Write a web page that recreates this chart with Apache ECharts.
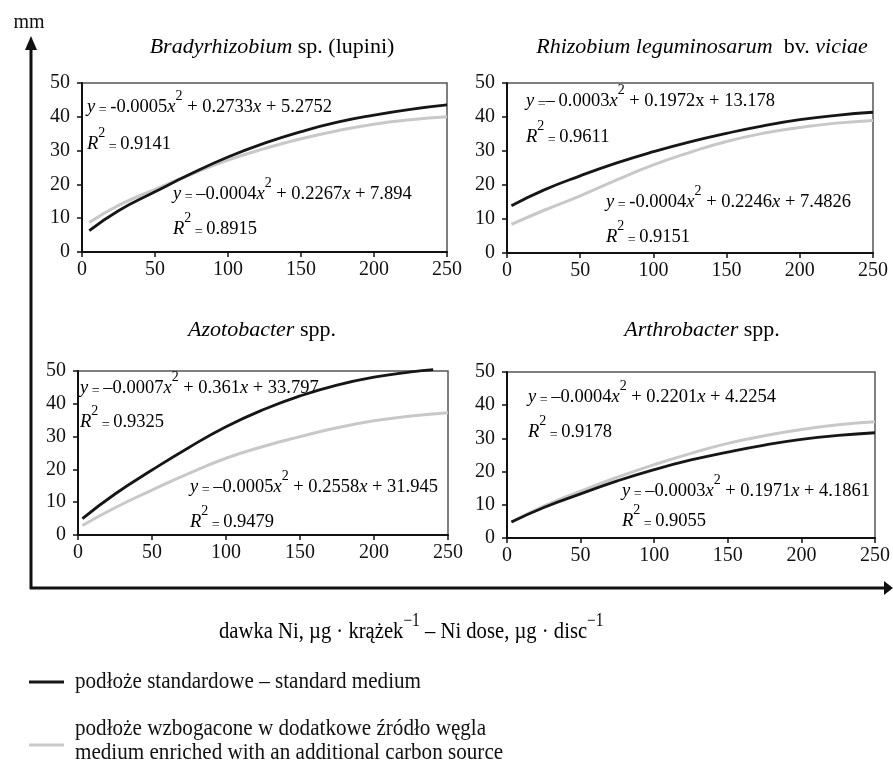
<!DOCTYPE html>
<html><head><meta charset="utf-8">
<script src="https://cdn.jsdelivr.net/npm/echarts@6/dist/echarts.min.js"></script>
<style>html,body{margin:0;padding:0;background:#fff}#c{width:893px;height:764px}</style>
</head><body><div id="c"></div>
<script>
// ---- tick values ----
const xTicks = [0, 50, 100, 150, 200, 250];
const yTicks = [0, 10, 20, 30, 40, 50];

// ---- panel titles (italic part, plain part) ----
const titleItalic = ['Bradyrhizobium', 'Rhizobium leguminosarum', 'Azotobacter', 'Arthrobacter'];
const titlePlain = [' sp. (lupini)', '  bv. ', ' spp.', ' spp.'];

// ---- data (x = Ni dose, y = mm) ----
const xBrady = [5, 25, 50, 75, 100, 125, 150, 175, 200, 225, 250];
const bradyStd = [6.3, 12.2, 17.8, 23.2, 28.1, 32.2, 35.6, 38.4, 40.5, 42.2, 43.5];
const bradyEnr = [8.7, 13.8, 18.5, 23.0, 27.2, 30.6, 33.5, 35.9, 37.8, 39.1, 40.0];

const xRhizo = [3, 25, 50, 75, 100, 125, 150, 175, 200, 225, 250];
const rhizoStd = [13.9, 18.5, 22.7, 26.5, 29.8, 32.7, 35.2, 37.4, 39.2, 40.5, 41.4];
const rhizoEnr = [8.4, 12.5, 16.8, 21.5, 25.9, 29.6, 32.8, 35.2, 36.9, 38.2, 39.0];

const xAzoStd = [3, 25, 50, 75, 100, 125, 150, 175, 200, 225, 240];
const azoStd = [5.0, 12.5, 19.8, 26.7, 33.0, 38.2, 42.4, 45.7, 48.1, 49.7, 50.4];
const xAzoEnr = [3, 25, 50, 75, 100, 125, 150, 175, 200, 225, 250];
const azoEnr = [2.9, 8.3, 13.7, 18.8, 23.4, 27.0, 30.0, 32.7, 34.8, 36.3, 37.3];

const xArthro = [3, 25, 50, 75, 100, 125, 150, 175, 200, 225, 250];
const arthroStd = [4.8, 9.2, 13.3, 17.2, 20.6, 23.5, 25.9, 28.0, 29.7, 30.9, 31.7];
const arthroEnr = [4.8, 9.6, 14.1, 18.3, 22.1, 25.5, 28.5, 30.8, 32.7, 34.1, 35.0];

// ---- regression labels ----
const eqStd = [
  ['\u2009-0.0005', '0.2733', '5.2752', '0.9141', true],
  ['\u2013\u20090.0003', '0.1972', '13.178', '0.9611', false],
  ['\u2009\u20130.0007', '0.361', '33.797', '0.9325', true],
  ['\u2009\u20130.0004', '0.2201', '4.2254', '0.9178', true]
];
const eqEnr = [
  ['\u2009\u20130.0004', '0.2267', '7.894', '0.8915', true],
  ['\u2009-0.0004', '0.2246', '7.4826', '0.9151', true],
  ['\u2009\u20130.0005', '0.2558', '31.945', '0.9479', true],
  ['\u2009\u20130.0003', '0.1971', '4.1861', '0.9055', true]
];

// legend / axis texts
const seriesNames = ['podłoże standardowe – standard medium',
  'podłoże wzbogacone w dodatkowe źródło węgla\nmedium enriched with an additional carbon source'];

const FONT = '"Liberation Serif", "DejaVu Serif", serif';
const BLACK = '#161616', GREY = '#c8c8c8';

// layout
const grids = [
  {left: 82, top: 83, width: 365, height: 169},
  {left: 507, top: 83, width: 366, height: 170},
  {left: 78, top: 371, width: 370, height: 164},
  {left: 507, top: 372, width: 369, height: 166}
];
const titlePos = [[272, 47], [702, 47], [262, 330], [702, 330]];
const eqPos = [
  [[87, 108], [87, 145], [173, 195], [173, 230]],
  [[526, 102], [526, 138], [606, 203], [606, 238]],
  [[80, 389], [80, 423], [190, 488], [190, 523]],
  [[528, 398], [528, 433], [622, 492], [622, 522]]
];
const seriesData = [
  [[xBrady, bradyStd], [xBrady, bradyEnr]],
  [[xRhizo, rhizoStd], [xRhizo, rhizoEnr]],
  [[xAzoStd, azoStd], [xAzoEnr, azoEnr]],
  [[xArthro, arthroStd], [xArthro, arthroEnr]]
];

const zip = (xs, ys) => xs.map((x, i) => [x, ys[i]]);

const rich = {
  n: {fontFamily: FONT, fontSize: 18.5, color: '#111', lineHeight: 28, verticalAlign: 'bottom'},
  e: {fontFamily: FONT, fontSize: 14, color: '#111', lineHeight: 28, verticalAlign: 'bottom'},
  i: {fontFamily: FONT, fontSize: 18.5, fontStyle: 'italic', color: '#111', lineHeight: 28, verticalAlign: 'bottom'},
  s: {fontFamily: FONT, fontSize: 14, color: '#111', lineHeight: 28, verticalAlign: 'top'}
};

function eqText(e) {
  const xs = e[4] ? '{i|x}' : '{n|x}';
  return '{i|y}{e| =}{n|' + e[0] + '}{i|x}{s|2}{n| + ' + e[1] + '}' + xs + '{n| + ' + e[2] + '}';
}
function r2Text(e) {
  return '{i|R}{s|2}{e| = }{n|' + e[3] + '}';
}

const graphic = [];
// titles
for (let k = 0; k < 4; k++) {
  let t = '{ti|' + titleItalic[k] + '}{tn|' + titlePlain[k] + '}';
  if (k === 1) t += '{ti|viciae}';
  graphic.push({type: 'text', x: titlePos[k][0], y: titlePos[k][1],
    style: {text: t, align: 'center', verticalAlign: 'middle',
      rich: {ti: {fontFamily: FONT, fontSize: 22, fontStyle: 'italic', color: '#111'},
             tn: {fontFamily: FONT, fontSize: 22, color: '#111'}}}});
  const eqs = [eqText(eqStd[k]), r2Text(eqStd[k]), eqText(eqEnr[k]), r2Text(eqEnr[k])];
  eqs.forEach((s, j) => {
    graphic.push({type: 'text', x: eqPos[k][j][0], y: eqPos[k][j][1] - 19, z: 50,
      style: {text: s, rich: rich}});
  });
}
// big axes arrows
graphic.push({type: 'line', shape: {x1: 31, y1: 589, x2: 31, y2: 48}, style: {stroke: '#111', lineWidth: 3}});
graphic.push({type: 'polygon', shape: {points: [[25, 50], [31, 36], [37, 50]]}, style: {fill: '#111'}});
graphic.push({type: 'line', shape: {x1: 30, y1: 588, x2: 886, y2: 588}, style: {stroke: '#111', lineWidth: 3}});
graphic.push({type: 'polygon', shape: {points: [[884, 581], [893, 588], [884, 595]]}, style: {fill: '#111'}});
graphic.push({type: 'text', x: 29, y: 23, style: {text: 'mm', font: '20px ' + FONT, fill: '#111', align: 'center', verticalAlign: 'middle'}});
// x-axis title
graphic.push({type: 'text', x: 219, y: 612, scaleX: 0.86,
  style: {text: '{n|dawka Ni, \u00b5g \u00b7 krążek}{s|\u22121}{n| \u2013 Ni dose, \u00b5g \u00b7 disc}{s|\u22121}',
    rich: {n: {fontFamily: FONT, fontSize: 24, color: '#111', lineHeight: 32, verticalAlign: 'bottom'},
           s: {fontFamily: FONT, fontSize: 18, color: '#111', lineHeight: 32, verticalAlign: 'top'}}}});
// legend
graphic.push({type: 'line', shape: {x1: 29, y1: 682, x2: 64, y2: 682}, style: {stroke: BLACK, lineWidth: 3}});
graphic.push({type: 'text', x: 75, y: 682, scaleX: 0.88,
  style: {text: seriesNames[0], font: '24px ' + FONT, fill: '#111', verticalAlign: 'middle'}});
graphic.push({type: 'line', shape: {x1: 29, y1: 745, x2: 64, y2: 745}, style: {stroke: GREY, lineWidth: 3}});
graphic.push({type: 'text', x: 75, y: 741, scaleX: 0.88,
  style: {text: seriesNames[1], font: '24px ' + FONT, fill: '#111', verticalAlign: 'middle', lineHeight: 24}});

const xAxes = [], yAxes = [], series = [];
for (let k = 0; k < 4; k++) {
  xAxes.push({type: 'value', gridIndex: k, min: xTicks[0], max: xTicks[xTicks.length - 1], interval: xTicks[1] - xTicks[0],
    axisLine: {show: true, lineStyle: {color: '#111', width: 2}},
    axisTick: {show: true, length: 5, lineStyle: {color: '#111', width: 1.5}},
    axisLabel: {fontFamily: FONT, fontSize: 20, color: '#111', margin: 8},
    splitLine: {show: false}});
  yAxes.push({type: 'value', gridIndex: k, min: yTicks[0], max: yTicks[yTicks.length - 1], interval: yTicks[1] - yTicks[0],
    axisLine: {show: true, lineStyle: {color: '#111', width: 2}},
    axisTick: {show: true, length: 5, lineStyle: {color: '#111', width: 1.5}},
    axisLabel: {fontFamily: FONT, fontSize: 20, color: '#111', margin: 12},
    splitLine: {show: false}});
  series.push({type: 'line', name: seriesNames[0], xAxisIndex: k, yAxisIndex: k, smooth: true, showSymbol: false,
    clip: false, z: 4, data: zip(seriesData[k][0][0], seriesData[k][0][1]), lineStyle: {color: BLACK, width: 2.8}});
  series.push({type: 'line', name: seriesNames[1], xAxisIndex: k, yAxisIndex: k, smooth: true, showSymbol: false,
    clip: false, z: 3, data: zip(seriesData[k][1][0], seriesData[k][1][1]), lineStyle: {color: GREY, width: 3}});
}

const chart = echarts.init(document.getElementById('c'), null, {renderer: 'canvas'});
chart.setOption({
  animation: false,
  backgroundColor: '#fff',
  grid: grids.map(g => Object.assign({show: true, borderColor: '#555', borderWidth: 1.5, containLabel: false}, g)),
  xAxis: xAxes,
  yAxis: yAxes,
  series: series,
  graphic: graphic
});
</script></body></html>
